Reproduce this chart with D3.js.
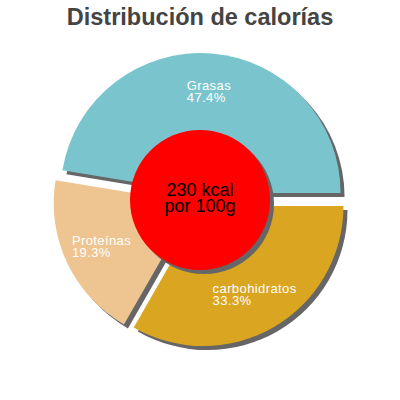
<!DOCTYPE html>
<html>
<head>
<meta charset="utf-8">
<script src="https://cdn.jsdelivr.net/npm/d3@7"></script>
<style>
body { margin: 0; background: #fff; }
text { font-family: "Liberation Sans", Arial, sans-serif; }
</style>
</head>
<body>
<div id="chart"></div>
<script>
// data, in the order they are drawn clockwise from 3 o'clock
var categories = ["carbohidratos", "Proteínas", "Grasas"];
var percents = [33.3, 19.3, 47.4];
var colors = ["#daa520", "#eec591", "#7ac5cd"];
var centerLines = ["230 kcal", "por 100g"];
var title = "Distribución de calorías";

var width = 400, height = 400;
var cx = 200, cy = 200;
var radius = 140, innerRadius = 70, explode = 7, labelRadius = 102;

var svg = d3.select("#chart")
	.append("svg")
	.attr("width", width)
	.attr("height", height);

svg.append("text")
	.attr("x", 200)
	.attr("y", 25)
	.attr("text-anchor", "middle")
	.style("font-size", "23.5px")
	.style("font-weight", "bold")
	.style("fill", "#444")
	.text(title);

var data = categories.map(function(c, i){
	return { name: c, value: percents[i], color: colors[i] };
});

var pie = d3.pie()
	.sort(null)
	.value(function(d){ return d.value; })
	.startAngle(Math.PI / 2)
	.endAngle(Math.PI / 2 + 2 * Math.PI);

var arc = d3.arc().innerRadius(0).outerRadius(radius);

var arcs = pie(data);

function offset(d, r) {
	var a = (d.startAngle + d.endAngle) / 2;
	return [Math.sin(a) * r, -Math.cos(a) * r];
}

var g = svg.append("g")
	.attr("transform", "translate(" + cx + "," + cy + ")");

// shadows first
g.selectAll("path.shadow")
	.data(arcs)
	.enter()
	.append("path")
	.attr("class", "shadow")
	.attr("d", arc)
	.attr("fill", "#666")
	.attr("transform", function(d){
		var o = offset(d, explode);
		return "translate(" + (o[0] + 4) + "," + (o[1] + 4) + ")";
	});

g.selectAll("path.slice")
	.data(arcs)
	.enter()
	.append("path")
	.attr("class", "slice")
	.attr("d", arc)
	.attr("fill", function(d){ return d.data.color; })
	.attr("transform", function(d){
		var o = offset(d, explode);
		return "translate(" + o[0] + "," + o[1] + ")";
	});

// labels: block centred on the label point, lines left aligned
var lineH = 12.5;
arcs.forEach(function(d){
	var o = offset(d, explode);
	var p = offset(d, labelRadius);
	var lx = o[0] + p[0], ly = o[1] + p[1];
	var t = g.append("text")
		.style("font-size", "13px")
		.style("letter-spacing", "0.4px")
		.style("fill", "#fff");
	t.append("tspan").text(d.data.name);
	t.append("tspan").text(d.data.value.toFixed(1) + "%");
	var w = 0;
	t.selectAll("tspan").each(function(){ w = Math.max(w, this.getComputedTextLength()); });
	t.selectAll("tspan")
		.attr("x", lx - w / 2)
		.attr("y", function(s, i){ return ly - lineH / 2 + 4.5 + i * lineH; });
});

// centre
g.append("circle")
	.attr("cx", 4).attr("cy", 4)
	.attr("r", innerRadius)
	.attr("fill", "#666");
g.append("circle")
	.attr("r", innerRadius)
	.attr("fill", "#ff0000");

g.selectAll("text.center")
	.data(centerLines)
	.enter()
	.append("text")
	.attr("class", "center")
	.attr("text-anchor", "middle")
	.attr("y", function(d, i){ return -4.3 + i * 16; })
	.style("font-size", "18px")
	.style("fill", "#000")
	.text(function(d){ return d; });
</script>
</body>
</html>
